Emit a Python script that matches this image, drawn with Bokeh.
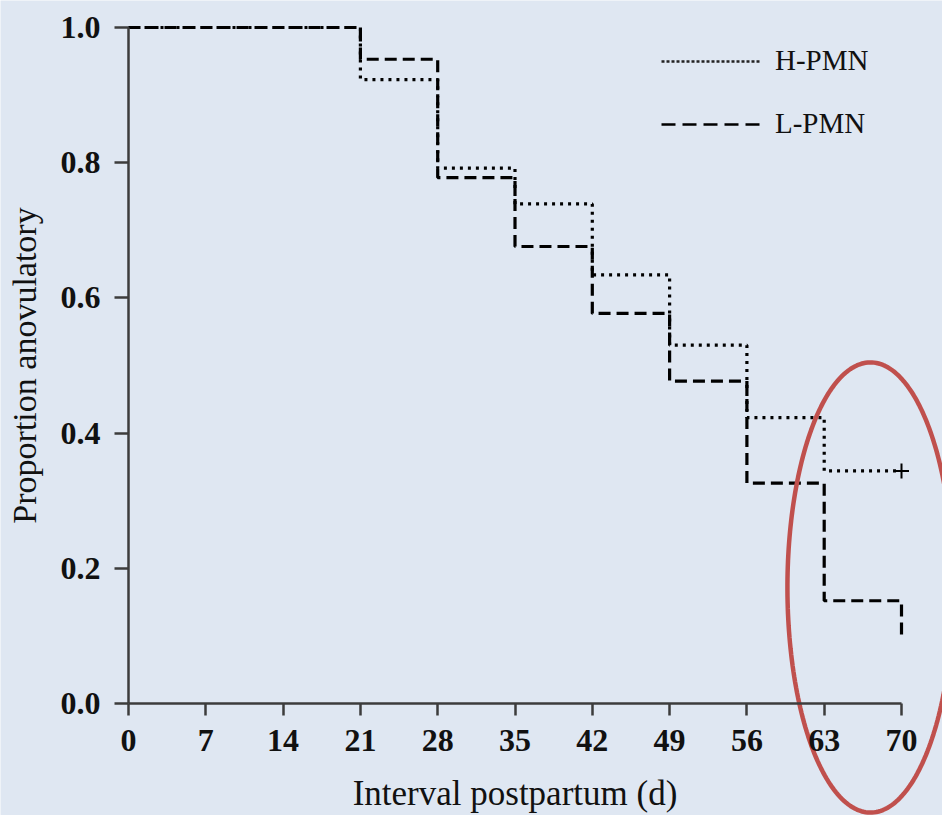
import numpy as np
from bokeh.plotting import figure
from bokeh.models import Range1d, FixedTicker, Legend, LegendItem
from bokeh.embed import file_html
from bokeh.resources import INLINE

# ---- data ----
days = [0, 21, 28, 35, 42, 49, 56, 63, 70]
h_pmn = [1.0, 0.923, 0.792, 0.739, 0.634, 0.530, 0.423, 0.344, 0.344]
l_pmn = [1.0, 0.953, 0.778, 0.676, 0.577, 0.477, 0.326, 0.152, 0.099]
censor_x = [70]
censor_y = [0.344]
x_ticks = [0, 7, 14, 21, 28, 35, 42, 49, 56, 63, 70]
y_ticks = [0.0, 0.2, 0.4, 0.6, 0.8, 1.0]
y_tick_labels = ["0.0", "0.2", "0.4", "0.6", "0.8", "1.0"]
series_names = ["H-PMN", "L-PMN"]

# highlight ellipse (centre and half-axes in data units)
ell_cx, ell_cy = 67.19, 0.1716
ell_rx, ell_ry = 7.52, 0.333

BG = "#dfe7f2"
AX = "#3c3c3c"
FONT = "Liberation Serif"

W, H = 942, 815
PX_X = 773 / 70.0     # pixels per day
PX_Y = 676.0          # pixels per unit proportion
X0, Y0 = 128, 703     # canvas position of the origin

p = figure(width=W, height=H, output_backend="svg", toolbar_location=None,
           x_range=Range1d(-X0 / PX_X, (W - X0) / PX_X),
           y_range=Range1d(-(H - Y0) / PX_Y, Y0 / PX_Y),
           min_border=0)
p.background_fill_color = BG
p.border_fill_color = BG
p.outline_line_color = None
p.xgrid.grid_line_color = None
p.ygrid.grid_line_color = None

# axes (real axes, pinned to the origin)
p.xaxis.fixed_location = 0
p.yaxis.fixed_location = 0
p.xaxis.bounds = (0, 70)
p.yaxis.bounds = (0, 1)
p.xaxis.ticker = FixedTicker(ticks=x_ticks)
p.yaxis.ticker = FixedTicker(ticks=y_ticks)
p.yaxis.major_label_overrides = {v: s for v, s in zip(y_ticks, y_tick_labels)}
for ax in (p.xaxis[0], p.yaxis[0]):
    ax.axis_line_color = AX
    ax.axis_line_width = 2.5
    ax.major_tick_line_color = AX
    ax.major_tick_line_width = 2.5
    ax.minor_tick_line_color = None
    ax.major_tick_in = 0
    ax.major_label_text_font = FONT
    ax.major_label_text_font_size = "32px"
    ax.major_label_text_font_style = "bold"
    ax.major_label_text_color = "#111111"
    ax.axis_label_text_font = FONT
    ax.axis_label_text_font_style = "normal"
    ax.axis_label_text_color = "#111111"
p.xaxis.major_tick_out = 12
p.yaxis.major_tick_out = 14
p.xaxis.major_label_standoff = 14
p.yaxis.major_label_standoff = 14
p.xaxis.axis_label = "Interval postpartum (d)"
p.yaxis.axis_label = "Proportion anovulatory"
p.xaxis.axis_label_text_font_size = "35px"
p.yaxis.axis_label_text_font_size = "34px"
p.xaxis.axis_label_standoff = 20
p.yaxis.axis_label_standoff = 15

# curves
p.step(days, h_pmn, mode="after", line_color="black", line_width=3.2,
       line_dash="3 5")
p.step(days, l_pmn, mode="after", line_color="black", line_width=3.2,
       line_dash="12 6")
p.scatter(censor_x, censor_y, marker="cross", size=15, line_width=2,
          line_color="black")

# legend sample lines (placed off-canvas, shown only in the legend)
lh = p.line([-60, -59], [-5, -5], line_color="#222222", line_width=2.5,
            line_dash="3 2")
ll = p.line([-60, -59], [-5, -5], line_color="black", line_width=2.5,
            line_dash="14 7")
legend = Legend(items=[LegendItem(label=series_names[0], renderers=[lh]),
                       LegendItem(label=series_names[1], renderers=[ll])],
                location=(661, 675), padding=0, margin=0, spacing=30,
                glyph_width=100, glyph_height=32, label_height=32,
                label_standoff=14, border_line_color=None,
                background_fill_alpha=0,
                label_text_font=FONT, label_text_font_size="29px",
                label_text_color="#111111")
p.add_layout(legend)

# red highlight ellipse
t = np.linspace(0, 2 * np.pi, 240)
p.line(ell_cx + ell_rx * np.cos(t), ell_cy + ell_ry * np.sin(t),
       line_color="#c0504d", line_width=4.5)

open("out.html", "w").write(file_html(p, INLINE))
